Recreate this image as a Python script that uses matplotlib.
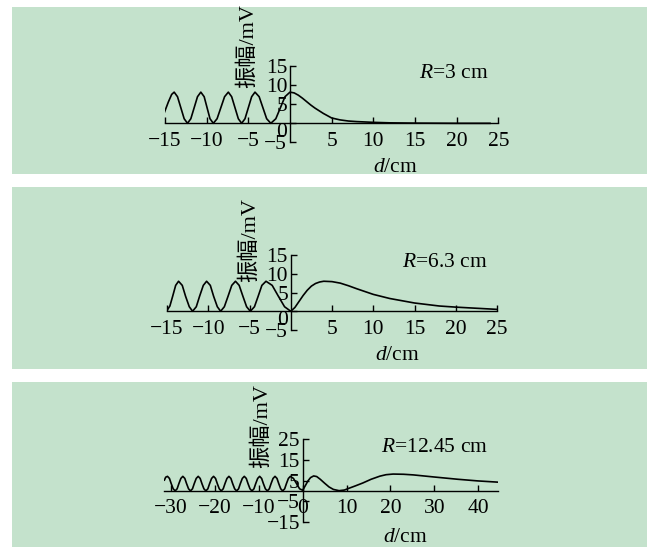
import matplotlib
matplotlib.use('Agg')
import matplotlib.pyplot as plt
from matplotlib.patches import Rectangle
from matplotlib.transforms import ScaledTranslation

plt.rcParams['font.family'] = ['Liberation Serif', 'Noto Sans CJK SC']
plt.rcParams['mathtext.fontset'] = 'custom'
plt.rcParams['mathtext.rm'] = 'Liberation Serif'
plt.rcParams['mathtext.it'] = 'Liberation Serif:italic'

# ---- data ----
# R = 3 cm
d1 = [-15.1, -14.6, -14.2, -13.9,
      -13.5, -13.1, -12.7, -12.3,
      -11.9, -11.5, -11.1, -10.7,
      -10.3, -9.95, -9.6, -9.2,
      -8.75, -8.3, -7.85, -7.4,
      -7.0, -6.6, -6.2, -5.8,
      -5.4, -5.0, -4.6, -4.2,
      -3.7, -3.25, -2.8, -2.3,
      -1.7, -1.15, -0.6, 0.0,
      0.5, 1.0, 1.5, 2.0, 2.5, 3.0, 3.5, 4.0, 5.0, 6.0, 7.0, 8.0,
      10.0, 12.0, 15.0, 20.0, 24.0]
a1 = [2.7, 5.6, 7.6, 8.2,
      7.0, 4.1, 1.2, 0.0,
      1.2, 4.1, 7.0, 8.2,
      7.0, 4.1, 1.2, 0.0,
      1.2, 4.1, 7.0, 8.2,
      7.0, 4.1, 1.2, 0.0,
      1.2, 4.1, 7.0, 8.2,
      7.0, 4.1, 1.2, 0.0,
      1.2, 4.1, 7.0, 8.2,
      8.0, 7.4, 6.6, 5.7, 4.8, 4.0, 3.3, 2.6, 1.4, 0.9, 0.6, 0.45,
      0.25, 0.12, 0.05, 0.0, 0.0]

# R = 6.3 cm
d2 = [-15.0, -14.65, -14.3, -13.95, -13.6,
      -13.15, -12.75, -12.3, -11.9,
      -11.45, -11.05, -10.6, -10.2,
      -9.75, -9.35, -8.9, -8.5,
      -8.05, -7.6, -7.15, -6.7,
      -6.25, -5.8, -5.35, -4.9,
      -4.4, -3.95, -3.5, -3.0,
      -2.25, -1.5, -0.75, 0.0,
      0.5, 1.0, 1.5, 2.0, 2.5, 3.0, 3.5, 4.0, 5.0, 6.0, 7.0, 8.0,
      10.0, 12.0, 15.0, 18.0, 20.0, 22.5, 25.0]
a2 = [0.2, 1.4, 4.1, 6.9, 8.0,
      6.9, 4.0, 1.2, 0.0,
      1.2, 4.0, 6.9, 8.0,
      6.9, 4.0, 1.2, 0.0,
      1.2, 4.0, 6.9, 8.0,
      6.9, 4.0, 1.2, 0.0,
      1.2, 4.0, 6.9, 8.0,
      6.9, 4.0, 1.2, 0.0,
      1.0, 2.6, 4.2, 5.6, 6.7, 7.4, 7.8, 8.0, 7.9, 7.5, 6.8, 6.0,
      4.5, 3.4, 2.2, 1.4, 1.1, 0.8, 0.5]

# R = 12.45 cm
d3 = [-31.5, -31.2, -30.8,
      -30.35, -29.95, -29.5, -29.05,
      -28.6, -28.2, -27.75, -27.3,
      -26.85, -26.45, -26.0, -25.55,
      -25.1, -24.7, -24.25, -23.8,
      -23.35, -22.95, -22.5, -22.05,
      -21.6, -21.2, -20.75, -20.3,
      -19.85, -19.45, -19.0, -18.55,
      -18.1, -17.7, -17.25, -16.8,
      -16.35, -15.95, -15.5, -15.05,
      -14.6, -14.2, -13.75, -13.3,
      -12.85, -12.45, -12.0, -11.55,
      -11.1, -10.7, -10.25, -9.8,
      -9.35, -8.95, -8.5, -8.05,
      -7.6, -7.2, -6.75, -6.3,
      -5.85, -5.45, -5.0, -4.55,
      -4.1, -3.7, -3.25, -2.8,
      -2.1, -1.4, -0.7, 0.0,
      0.6, 1.2, 1.8, 2.5, 3.2, 4.0, 5.0, 6.0, 7.0, 8.3,
      9.5, 10.6, 12.0, 13.7, 15.6, 17.6, 19.0, 20.6, 23.0, 25.2,
      29.9, 35.3, 39.9, 44.5]
a3 = [5.2, 6.6, 7.0,
      6.0, 3.5, 1.0, 0.0,
      1.0, 3.5, 6.0, 7.0,
      6.0, 3.5, 1.0, 0.0,
      1.0, 3.5, 6.0, 7.0,
      6.0, 3.5, 1.0, 0.0,
      1.0, 3.5, 6.0, 7.0,
      6.0, 3.5, 1.0, 0.0,
      1.0, 3.5, 6.0, 7.0,
      6.0, 3.5, 1.0, 0.0,
      1.0, 3.5, 6.0, 7.0,
      6.0, 3.5, 1.0, 0.0,
      1.0, 3.5, 6.0, 7.0,
      6.0, 3.5, 1.0, 0.0,
      1.0, 3.5, 6.0, 7.0,
      6.0, 3.5, 1.0, 0.0,
      1.0, 3.5, 6.0, 7.0,
      6.0, 3.5, 1.0, 0.3,
      2.5, 4.8, 6.4, 7.2, 6.9, 5.6, 3.7, 1.9, 0.7, 0.1,
      0.4, 1.3, 2.4, 3.8, 5.6, 7.1, 7.8, 8.1, 8.0, 7.7,
      6.7, 5.6, 4.8, 4.2]

labels = ['$R$=3 cm', '$R$=6.3 cm', '$R$=12.45 cm']
xticks = [[-15, -10, -5, 5, 10, 15, 20, 25],
          [-15, -10, -5, 5, 10, 15, 20, 25],
          [-30, -20, -10, 0, 10, 20, 30, 40]]
yticks = [[-5, 0, 5, 10, 15],
          [-5, 0, 5, 10, 15],
          [-15, -5, 5, 15, 25]]

W, H = 651, 547
fig = plt.figure(figsize=(W / 100, H / 100), dpi=100)

# green panels (pixel boxes: left, top, right, bottom)
panel_boxes = [(12, 7, 647, 174), (12, 187, 647, 369), (12, 382, 647, 547)]
for l, t, r, b in panel_boxes:
    fig.patches.append(Rectangle((l / W, 1 - b / H), (r - l) / W, (b - t) / H,
                                 transform=fig.transFigure, facecolor='#c4e2cc',
                                 edgecolor='none', zorder=-10))

# axes boxes in pixels and limits
axes_px = [(165, 66.3, 498.3, 142.3), (167, 255, 497, 330), (164.4, 439, 498, 522)]
xlims = [(-15, 25), (-15, 25), (-31.5, 44.5)]
ylims = [(-5, 15), (-5, 15), (-15, 25)]
ylab_pos = [(248, 88), (250, 282), (262, 468)]
rtext_pos = [(488, 73), (488, 263), (488, 447)]
dlab_pos = [(395, 167), (397, 356), (405, 537)]

series = [(d1, a1), (d2, a2), (d3, a3)]

for i in range(3):
    l, t, r, b = axes_px[i]
    ax = fig.add_axes([l / W, 1 - b / H, (r - l) / W, (b - t) / H], zorder=5)
    ax.patch.set_alpha(0)
    x, y = series[i]
    ax.plot(x, y, color='black', lw=1.2)
    ax.set_xlim(*xlims[i])
    ax.set_ylim(*ylims[i])
    for s in ['top', 'right']:
        ax.spines[s].set_visible(False)
    ax.spines['left'].set_position(('data', 0))
    ax.spines['bottom'].set_position(('data', 0))
    for s in ['left', 'bottom']:
        ax.spines[s].set_linewidth(1.0)
    ax.set_xticks(xticks[i])
    ax.set_yticks(yticks[i])
    ax.tick_params(axis='both', direction='in', length=4, width=1.0,
                   labelsize=15.5, colors='black')
    ax.tick_params(axis='x', pad=6)
    ax.tick_params(axis='y', pad=2)
    if i < 2:
        for lab in ax.get_yticklabels():
            if lab.get_text() in ('0',):
                lab.set_transform(lab.get_transform()
                                  + ScaledTranslation(0, -5 / 72, fig.dpi_scale_trans))

    lx, ly = ylab_pos[i]
    fig.text(lx / W, 1 - ly / H, '振幅/mV', rotation=90, ha='center', va='bottom',
             fontsize=16, zorder=6)
    rx, ry = rtext_pos[i]
    fig.text(rx / W, 1 - ry / H, labels[i], ha='right', va='center', fontsize=15.5, zorder=6)
    dx, dy = dlab_pos[i]
    fig.text(dx / W, 1 - dy / H, '$d$/cm', ha='center', va='center', fontsize=15.5, zorder=6)

plt.savefig('out.png', dpi=100, facecolor='white')
